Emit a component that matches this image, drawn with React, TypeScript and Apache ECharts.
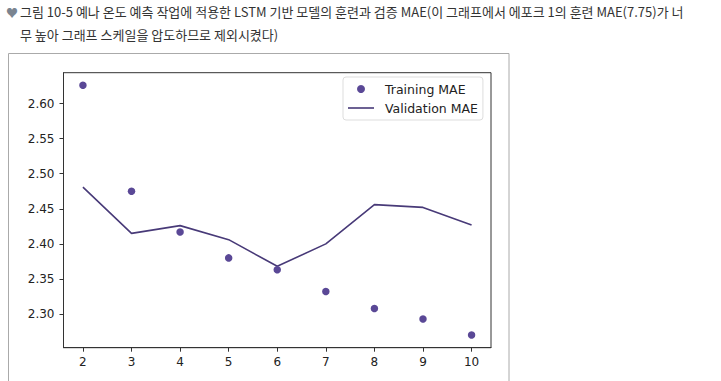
import React, { useEffect, useRef } from "react";
import * as echarts from "echarts";

const epochs = [2, 3, 4, 5, 6, 7, 8, 9, 10];
const trainingMae = [2.626, 2.475, 2.417, 2.38, 2.363, 2.332, 2.308, 2.293, 2.27];
const validationMae = [2.481, 2.415, 2.426, 2.406, 2.368, 2.4, 2.456, 2.452, 2.427];
const yTicks = [2.3, 2.35, 2.4, 2.45, 2.5, 2.55, 2.6];
const xTicks = [2, 3, 4, 5, 6, 7, 8, 9, 10];
const captionLine1 =
  "그림 10-5 예나 온도 예측 작업에 적용한 LSTM 기반 모델의 훈련과 검증 MAE(이 그래프에서 에포크 1의 훈련 MAE(7.75)가 너";
const captionLine2 = "무 높아 그래프 스케일을 압도하므로 제외시켰다)";

export default function App() {
  const ref = useRef<HTMLDivElement>(null);
  useEffect(() => {
    if (!ref.current) return;
    const chart = echarts.init(ref.current, null, { renderer: "svg" });
    const font = "DejaVu Sans";
    chart.setOption({
      animation: false,
      backgroundColor: "#ffffff",
      grid: {
        left: 63.5,
        top: 72.7,
        right: 721 - 491,
        bottom: 381 - 347.7,
        show: true,
        borderColor: "#333",
        borderWidth: 1,
        backgroundColor: "transparent",
      },
      xAxis: {
        type: "value",
        min: 1.6,
        max: 10.4,
        splitLine: { show: false },
        axisLine: { show: true, onZero: false, lineStyle: { color: "#333" } },
        axisTick: { show: true, length: 4, customValues: xTicks, lineStyle: { color: "#333" } },
        axisLabel: {
          customValues: xTicks,
          margin: 8,
          color: "#222",
          fontFamily: font,
          fontSize: 12,
        },
      },
      yAxis: {
        type: "value",
        min: 2.252,
        max: 2.644,
        splitLine: { show: false },
        axisLine: { show: true, onZero: false, lineStyle: { color: "#333" } },
        axisTick: { show: true, length: 4, customValues: yTicks, lineStyle: { color: "#333" } },
        axisLabel: {
          customValues: yTicks,
          margin: 9,
          color: "#222",
          fontFamily: font,
          fontSize: 12,
          formatter: (v: number) => v.toFixed(2),
        },
      },
      legend: {
        orient: "vertical",
        left: 343,
        top: 77,
        padding: [5, 5, 5, 5],
        itemWidth: 26,
        itemHeight: 8,
        itemGap: 5,
        borderColor: "#ddd",
        borderWidth: 1,
        borderRadius: 3,
        backgroundColor: "rgba(255,255,255,0.8)",
        textStyle: {
          fontFamily: font,
          fontSize: 12.5,
          color: "#222",
          lineHeight: 14,
          padding: [0, 0, 0, 6],
        },
        data: [
          { name: "Training MAE", icon: "circle" },
          { name: "Validation MAE", icon: "path://M0,0L26,0L26,1.6L0,1.6Z" },
        ],
      },
      graphic: [
        {
          type: "rect",
          shape: { x: 8.5, y: 53.5, width: 500.5, height: 340 },
          style: { fill: "none", stroke: "#aaa", lineWidth: 1 },
          silent: true,
        },
        {
          type: "text",
          left: 6,
          top: 6,
          style: { text: "♥", fill: "#7a8490", fontSize: 12, fontFamily: "Noto Sans CJK KR" },
        },
        {
          type: "text",
          left: 20,
          top: 5,
          style: {
            text: captionLine1,
            fill: "#333",
            fontSize: 13,
            fontFamily: "Noto Sans CJK KR",
          },
        },
        {
          type: "text",
          left: 20,
          top: 28,
          style: {
            text: captionLine2,
            fill: "#333",
            fontSize: 13,
            fontFamily: "Noto Sans CJK KR",
          },
        },
      ],
      series: [
        {
          name: "Training MAE",
          type: "scatter",
          data: epochs.map((e, i) => [e, trainingMae[i]]),
          symbol: "circle",
          symbolSize: 7.5,
          itemStyle: { color: "#5a4896", opacity: 1 },
          z: 3,
        },
        {
          name: "Validation MAE",
          type: "line",
          data: epochs.map((e, i) => [e, validationMae[i]]),
          symbol: "none",
          showSymbol: false,
          lineStyle: { color: "#483a78", width: 1.6 },
          itemStyle: { color: "#483a78" },
          z: 2,
        },
      ],
    });
    return () => chart.dispose();
  }, []);
  return (
    <div
      ref={ref}
      style={{ position: "fixed", left: 0, top: 0, width: 721, height: 381 }}
    />
  );
}
